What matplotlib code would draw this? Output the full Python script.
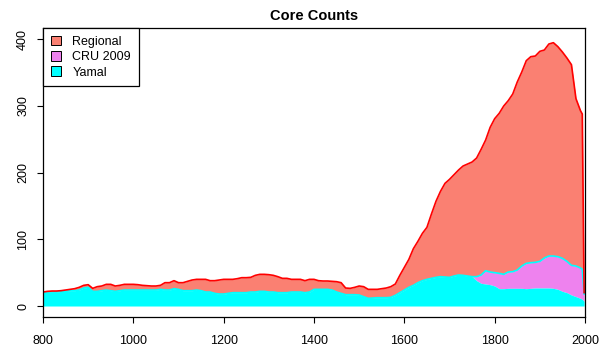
import numpy as np
import matplotlib.pyplot as plt
from matplotlib.patches import Patch

plt.rcParams['font.family'] = ['Liberation Sans', 'DejaVu Sans']

# years and core counts
years = list(range(800, 2000, 10)) + [1994, 1998]

yamal = [21, 21, 21, 21, 22, 22, 23, 23, 24, 27,
         28, 22, 22, 23, 24, 23, 22, 23, 24, 24,
         24, 24, 24, 24, 24, 24, 25, 24, 24, 26,
         25, 23, 23, 23, 24, 23, 21, 21, 19, 18,
         18, 19, 20, 20, 20, 20, 21, 21, 22, 22,
         21, 21, 20, 20, 20, 21, 21, 21, 20, 21,
         25, 25, 25, 25, 24, 21, 19, 17, 17, 17,
         16.5, 14, 11.5, 12, 12.5, 12.5, 12.5, 13, 16, 20,
         24, 28, 31, 35, 38, 40, 41.5, 43, 44, 43.5,
         43, 45, 46.5, 46, 45, 44, 38, 34, 33, 32,
         30, 26, 26, 26.5, 26.5, 26.5, 26.5, 26, 26.5, 27,
         27, 27, 27, 26.5, 25, 22, 20, 16.5, 14, 11.5,
         10, 7]

cru_top = [21, 21, 21, 21, 22, 22, 23, 23, 24, 27,
           28, 22, 22, 23, 24, 23, 22, 23, 24, 24,
           24, 24, 24, 24, 24, 24, 25, 24, 24, 26,
           25, 23, 23, 23, 24, 23, 21, 21, 19, 18,
           18, 19, 20, 20, 20, 20, 21, 21, 22, 22,
           21, 21, 20, 20, 20, 21, 21, 21, 20, 21,
           25, 25, 25, 25, 24, 21, 19, 17, 17, 17,
           16.5, 14, 11.5, 12, 12.5, 12.5, 12.5, 13, 16, 20,
           24, 28, 31, 35, 38, 40, 41.5, 43, 44, 43.5,
           43, 45, 46.5, 46, 45, 44, 44, 46.5, 53, 51,
           50, 49, 47.5, 51, 51.5, 54, 60, 64, 65, 65.5,
           67, 72, 75, 75, 74, 71.5, 67, 61, 60, 57,
           55, 18]

total = [21, 22, 22.5, 22.5, 23, 24, 25, 26, 28, 31,
         32, 26.5, 29, 30, 32.5, 32.5, 30, 31, 32.5, 32.5,
         32.5, 32, 31, 30.5, 30, 30, 31, 35, 35, 38,
         35, 35, 37, 39, 40, 40, 40, 38, 38, 39,
         40, 40, 40, 41, 42.5, 42.5, 43, 46, 47.5, 47.5,
         47, 46, 44, 41.5, 41.5, 40, 40, 40, 38, 40,
         40, 38, 37.5, 37.5, 37, 36.5, 35, 27, 26.5, 28,
         30, 29, 25, 25, 25, 26, 27, 29, 33, 46,
         58, 70, 86, 97, 109, 118, 138, 157, 172, 184,
         190, 197, 204, 210, 213, 216, 222, 235, 249, 268,
         281, 289, 300, 308, 318, 336, 351, 368, 374, 375,
         382, 384, 393, 395, 389, 381, 372, 362, 311, 293,
         288, 20]

x = np.array(years)
y_yamal = np.array(yamal)
y_cru = np.array(cru_top)
y_tot = np.array(total)

fig = plt.figure(figsize=(6, 3.6), dpi=100)
ax = fig.add_axes([0.0717, 0.1194, 0.9033, 0.8028])

ax.fill_between(x, y_cru, y_tot, color='#FA8072', lw=0)
ax.fill_between(x, y_yamal, y_cru, color='#EE82EE', lw=0)
ax.fill_between(x, 0, y_yamal, color='#00FFFF', lw=0)
ax.plot(x, y_cru, color='#00FFFF', lw=1.2)
ax.plot(x, y_tot, color='#FF0000', lw=1.2)

ax.set_xlim(800, 2000)
ax.set_ylim(-16.5, 417)
ax.set_xticks(range(800, 2001, 200))
ax.set_yticks([0, 100, 200, 300, 400])
ax.tick_params(direction='out', length=4, width=0.8, labelsize=9)
ax.tick_params(axis='x', pad=9)
ax.tick_params(axis='y', pad=6)
for lab in ax.get_yticklabels():
    lab.set_rotation(90)
    lab.set_va('center')
for s in ax.spines.values():
    s.set_linewidth(0.9)

ax.set_title('Core Counts', fontsize=10.5, fontweight='bold', pad=6)

handles = [Patch(facecolor='#FA8072', edgecolor='black', lw=0.7),
           Patch(facecolor='#EE82EE', edgecolor='black', lw=0.7),
           Patch(facecolor='#00FFFF', edgecolor='black', lw=0.7)]
leg = ax.legend(handles, ['Regional', 'CRU 2009', 'Yamal'], loc='upper left',
                bbox_to_anchor=(0, 1), borderaxespad=0, fancybox=False,
                edgecolor='black', framealpha=1, fontsize=9,
                handlelength=0.85, handleheight=0.85, handletextpad=0.9,
                labelspacing=0.25, borderpad=0.6)
leg.get_frame().set_linewidth(0.9)

fig.savefig('out.png', dpi=100)
